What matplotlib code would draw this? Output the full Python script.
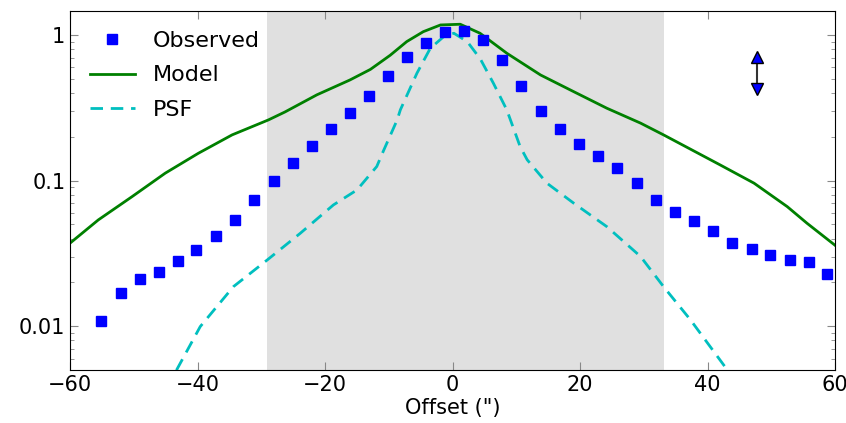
import numpy as np
import matplotlib
matplotlib.use("Agg")
import matplotlib.pyplot as plt
from matplotlib.ticker import FuncFormatter

#
# data
#
obs_x = [-55.2, -52.1, -49.1, -46.1, -43.1, -40.2, -37.2, -34.2, -31.1, -28.1,
         -25.1, -22.1, -19.1, -16.1, -13.1, -10.1, -7.1, -4.2, -1.2, 1.8,
         4.8, 7.8, 10.8, 13.8, 16.8, 19.8, 22.8, 25.8, 28.9, 31.9,
         34.9, 37.9, 40.9, 43.9, 46.9, 49.8, 52.9, 55.9, 58.8]
obs_y = [0.0108, 0.0169, 0.0211, 0.0237, 0.0281, 0.0333, 0.0417, 0.0535, 0.0738, 0.0995,
         0.132, 0.173, 0.225, 0.292, 0.381, 0.523, 0.710, 0.877, 1.04, 1.07,
         0.924, 0.670, 0.447, 0.299, 0.225, 0.179, 0.148, 0.123, 0.0964, 0.0738,
         0.0610, 0.0526, 0.0451, 0.0374, 0.0338, 0.0309, 0.0285, 0.0277, 0.0228]

model_x = [-60.0, -55.6, -50.3, -45.1, -39.9, -34.6, -28.9, -26.3, -21.3, -16.1,
           -12.9, -9.8, -7.2, -4.6, -1.9, 1.2, 4.3, 8.5, 13.8, 19.0,
           24.2, 29.5, 33.1, 42.0, 47.3, 52.5, 55.6, 60.0]
model_y = [0.0373, 0.0537, 0.0776, 0.1124, 0.154, 0.206, 0.261, 0.296, 0.388, 0.491,
           0.580, 0.725, 0.900, 1.053, 1.171, 1.184, 1.027, 0.749, 0.531, 0.408,
           0.314, 0.248, 0.206, 0.128, 0.0960, 0.0663, 0.0510, 0.0360]

psf_x = [-45.0, -43.3, -39.6, -34.4, -29.1, -23.9, -18.7, -15.0, -11.9, -10.8,
         -8.7, -8.2, -5.6, -3.5, -1.4, 0.2, 2.3, 4.35, 6.4, 8.5,
         10.6, 11.7, 14.8, 19.0, 24.2, 29.5, 33.1, 37.3, 43.1, 45.0]
psf_y = [0.0038, 0.00502, 0.00995, 0.0187, 0.0285, 0.0435, 0.0681, 0.0863, 0.125, 0.162,
         0.261, 0.306, 0.546, 0.810, 0.973, 1.027, 0.900, 0.684, 0.466, 0.306,
         0.171, 0.139, 0.0960, 0.070, 0.0483, 0.0301, 0.0187, 0.0111, 0.00502, 0.0038]

shade_range = (-29.1, 33.1)
arrow_x = [47.8, 47.8]
arrow_y = [0.706, 0.423]

#
# plot
#
fig = plt.figure(figsize=(8.46, 4.23), dpi=100)
ax = fig.add_axes([0.083, 0.125, 0.904, 0.849])

ax.axvspan(shade_range[0], shade_range[1], color='#e0e0e0', zorder=0, lw=0)
ax.plot(obs_x, obs_y, 's', color='b', mec='b', ms=7, label='Observed', zorder=3)
ax.plot(model_x, model_y, '-', color='g', lw=2, label='Model', zorder=2)
ax.plot(psf_x, psf_y, '--', color='c', lw=2, dashes=(4.5, 2.8), label='PSF', zorder=2)

# double arrow
ax.plot(arrow_x, arrow_y, '-', color='#333333', lw=1.5, zorder=4)
ax.plot(arrow_x[0], arrow_y[0], '^', color='b', mec='k', ms=9, zorder=5)
ax.plot(arrow_x[1], arrow_y[1], 'v', color='b', mec='k', ms=9, zorder=5)

ax.set_yscale('log')
ax.set_xlim(-60, 60)
ax.set_ylim(0.005, 1.46)
ax.set_xticks([-60, -40, -20, 0, 20, 40, 60])
ax.set_yticks([0.01, 0.1, 1])
ax.yaxis.set_major_formatter(FuncFormatter(lambda v, p: '%g' % v))
ax.tick_params(which='both', direction='in', top=True, right=True, labelsize=15)
ax.tick_params(which='major', length=6, color='#888888')
ax.tick_params(which='minor', length=3, color='#888888')
ax.set_xlabel('Offset (")', fontsize=15, labelpad=2)

ax.legend(loc='upper left', frameon=False, fontsize=16, numpoints=1,
          labelspacing=0.65)

plt.savefig('out.png', dpi=100)
